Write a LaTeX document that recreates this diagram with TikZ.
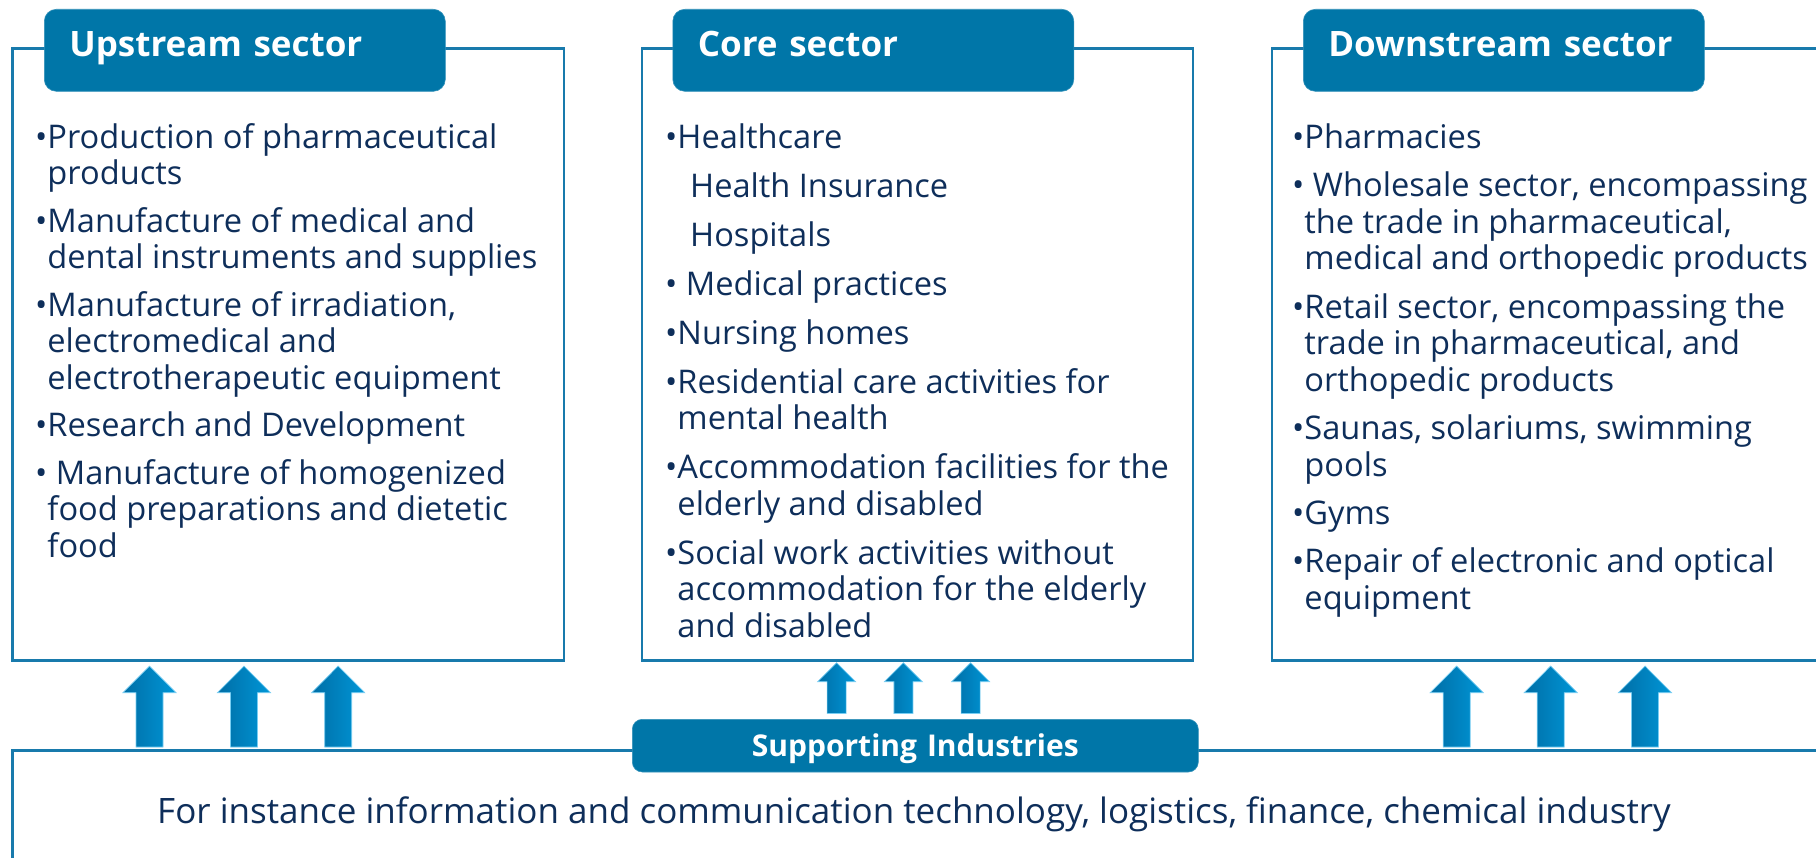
\documentclass[tikz,border=0pt]{standalone}
\usepackage{fontspec}
\setmainfont{Open Sans}
\definecolor{secblue}{RGB}{0,118,168}
\definecolor{linblue}{RGB}{24,122,172}
\definecolor{txtnavy}{RGB}{14,46,90}
\definecolor{arrdark}{RGB}{0,110,166}
\definecolor{arrlight}{RGB}{0,150,215}
\definecolor{arredge}{RGB}{120,205,242}
\newcommand{\liftarrow}[6]{\shadedraw[liftfill] (#1-#5,#3) -- (#1-#5,#2+#6) -- (#1-#4,#2+#6) -- (#1,#2) -- (#1+#4,#2+#6) -- (#1+#5,#2+#6) -- (#1+#5,#3) -- cycle;}

\begin{document}
\begin{tikzpicture}[x=1pt,y=-1pt,
	frame/.style={draw=linblue,line width=2.5pt},
	head/.style={fill=secblue,draw=secblue!80!white,line width=0.6pt,rounded corners=12pt,text=white,font=\bfseries\fontsize{35}{40}\selectfont,
		anchor=north west,minimum width=401pt,minimum height=82pt,text width=351pt,inner xsep=25pt,inner ysep=0pt,align=left,text height=26pt,text depth=12.6pt},
	item/.style={anchor=base west,inner sep=0pt,text=txtnavy,font=\fontsize{32.6}{36}\selectfont},
	liftfill/.style={left color=arrdark,right color=arrlight,draw=arredge,line width=0.7pt}]
	\useasboundingbox (0,0) rectangle (1816,858);

	\draw[frame] (12.5,48.3) rectangle (564,660.5);
	\draw[frame] (641.8,48.3) rectangle (1193,660.5);
	\draw[frame] (1272,48.3) rectangle (1840,660.5);
	\draw[frame] (12.5,750.5) rectangle (1840,880);

	\node[head] (headUp) at (44,9) {Upstream sector};
	\node[head] (headCore) at (672.5,9) {Core sector};
	\node[head] (headDown) at (1303,9) {Downstream sector};

	\node[item] (up1) at (35,148.3) {•Production of pharmaceutical};
	\node[item] (up2) at (35,184.8) {\phantom{•}products};
	\node[item] (up3) at (35,232.3) {•Manufacture of medical and};
	\node[item] (up4) at (35,268.8) {\phantom{•}dental instruments and supplies};
	\node[item] (up5) at (35,316.3) {•Manufacture of irradiation,};
	\node[item] (up6) at (35,352.8) {\phantom{•}electromedical and};
	\node[item] (up7) at (35,389.3) {\phantom{•}electrotherapeutic equipment};
	\node[item] (up8) at (35,436.8) {•Research and Development};
	\node[item] (up9) at (35,484.3) {• Manufacture of homogenized};
	\node[item] (up10) at (35,520.8) {\phantom{•}food preparations and dietetic};
	\node[item] (up11) at (35,557.3) {\phantom{•}food};

	\node[item] (core1) at (665,148.3) {•Healthcare};
	\node[item] (core2) at (690,197.3) {Health Insurance};
	\node[item] (core3) at (690,246.3) {Hospitals};
	\node[item] (core4) at (665,295.3) {• Medical practices};
	\node[item] (core5) at (665,344.3) {•Nursing homes};
	\node[item] (core6) at (665,393.3) {•Residential care activities for};
	\node[item] (core7) at (665,429.8) {\phantom{•}mental health};
	\node[item] (core8) at (665,478.8) {•Accommodation facilities for the};
	\node[item] (core9) at (665,515.3) {\phantom{•}elderly and disabled};
	\node[item] (core10) at (665,564.3) {•Social work activities without};
	\node[item] (core11) at (665,600.8) {\phantom{•}accommodation for the elderly};
	\node[item] (core12) at (665,637.3) {\phantom{•}and disabled};

	\node[item] (down1) at (1292,148.3) {•Pharmacies};
	\node[item] (down2) at (1292,196.7) {• Wholesale sector, encompassing};
	\node[item] (down3) at (1292,233.2) {\phantom{•}the trade in pharmaceutical,};
	\node[item] (down4) at (1292,269.7) {\phantom{•}medical and orthopedic products};
	\node[item] (down5) at (1292,318.1) {•Retail sector, encompassing the};
	\node[item] (down6) at (1292,354.6) {\phantom{•}trade in pharmaceutical, and};
	\node[item] (down7) at (1292,391.1) {\phantom{•}orthopedic products};
	\node[item] (down8) at (1292,439.5) {•Saunas, solariums, swimming};
	\node[item] (down9) at (1292,476) {\phantom{•}pools};
	\node[item] (down10) at (1292,524.4) {•Gyms};
	\node[item] (down11) at (1292,572.8) {•Repair of electronic and optical};
	\node[item] (down12) at (1292,609.3) {\phantom{•}equipment};

	\liftarrow{149.5}{666}{747}{26.5}{13.5}{26.7}
	\liftarrow{244}{666}{747}{26.5}{13.5}{26.7}
	\liftarrow{338.2}{666}{747}{26.5}{13.5}{26.7}
	\liftarrow{836.6}{662.7}{713.5}{19}{9.5}{19}
	\liftarrow{903.4}{662.7}{713.5}{19}{9.5}{19}
	\liftarrow{970.6}{662.7}{713.5}{19}{9.5}{19}
	\liftarrow{1456.7}{666}{747}{26.5}{13.5}{26.7}
	\liftarrow{1550.7}{666}{747}{26.5}{13.5}{26.7}
	\liftarrow{1645}{666}{747}{26.5}{13.5}{26.7}

	\node[head,font=\bfseries\fontsize{30}{36}\selectfont,minimum width=566pt,minimum height=52.7pt,text width=526pt,inner xsep=20pt,align=center,text height=28pt,text depth=5.4pt,rounded corners=10pt] (headSupp) at (632,719) {Supporting Industries};
	\node[item,anchor=base,font=\fontsize{35}{40}\selectfont] (suppText) at (914,823) {For instance information and communication technology, logistics, finance, chemical industry};
\end{tikzpicture}
\end{document}
